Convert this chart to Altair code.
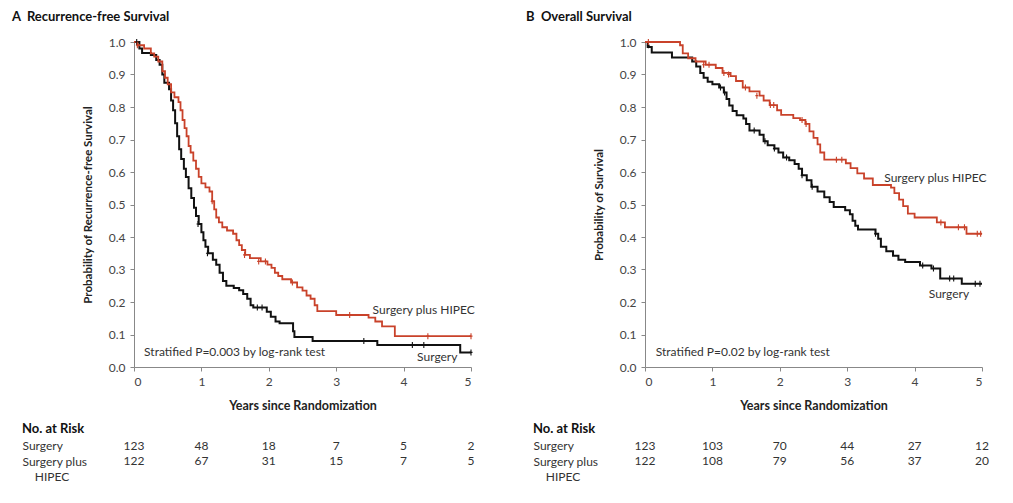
import altair as alt
import pandas as pd

FONT = "Lato"
ARMS = ["Surgery", "Surgery plus HIPEC"]
COLORS = ["#111111", "#c9422a"]
YEARS = [0, 1, 2, 3, 4, 5]
Y_TICKS = [0.0, 0.1, 0.2, 0.3, 0.4, 0.5, 0.6, 0.7, 0.8, 0.9, 1.0]
ROWS = ["Surgery", "Surgery plus", "\u200b\u00a0\u00a0\u00a0\u00a0HIPEC"]

# ---------------- Panel A: Recurrence-free survival ----------------
a_surg_t = [0, 0.08, 0.12, 0.25, 0.33, 0.38, 0.42, 0.45, 0.52, 0.55, 0.58, 0.61, 0.64, 0.67, 0.70,
            0.74, 0.77, 0.81, 0.85, 0.89, 0.92, 0.96, 1.00, 1.03, 1.06, 1.10, 1.17, 1.22, 1.27, 1.32,
            1.37, 1.48, 1.56, 1.62, 1.68, 1.73, 1.77, 1.97, 2.03, 2.10, 2.16, 2.36, 2.38, 2.65, 3.61,
            4.84, 5.0]
a_surg_v = [1.0, 0.98, 0.966, 0.96, 0.945, 0.93, 0.90, 0.875, 0.855, 0.82, 0.79, 0.75, 0.71, 0.67, 0.64,
            0.61, 0.585, 0.55, 0.52, 0.49, 0.465, 0.44, 0.415, 0.39, 0.37, 0.35, 0.33, 0.315, 0.29, 0.265,
            0.25, 0.243, 0.236, 0.225, 0.21, 0.19, 0.183, 0.17, 0.155, 0.14, 0.135, 0.11, 0.092, 0.08, 0.068,
            0.045, 0.045]
a_hip_t = [0, 0.05, 0.15, 0.25, 0.30, 0.36, 0.42, 0.46, 0.50, 0.55, 0.60, 0.66, 0.69, 0.72, 0.75, 0.78,
           0.81, 0.84, 0.88, 0.92, 0.96, 1.00, 1.06, 1.12, 1.16, 1.19, 1.22, 1.26, 1.31, 1.38, 1.47, 1.52,
           1.56, 1.60, 1.65, 1.72, 1.88, 1.98, 2.04, 2.09, 2.14, 2.20, 2.33, 2.42, 2.50, 2.56, 2.62, 2.68,
           2.72, 3.00, 3.48, 3.58, 3.68, 3.87, 5.0]
a_hip_v = [1.0, 0.99, 0.98, 0.965, 0.955, 0.94, 0.91, 0.89, 0.87, 0.845, 0.83, 0.815, 0.79, 0.76, 0.735,
           0.71, 0.68, 0.66, 0.635, 0.61, 0.585, 0.565, 0.553, 0.54, 0.51, 0.485, 0.46, 0.445, 0.43, 0.42,
           0.41, 0.39, 0.375, 0.36, 0.345, 0.335, 0.325, 0.315, 0.305, 0.29, 0.28, 0.27, 0.26, 0.245, 0.235,
           0.22, 0.21, 0.19, 0.172, 0.16, 0.152, 0.14, 0.125, 0.095, 0.095]
a_surg_cens_t = [0.04, 0.95, 1.09, 1.83, 1.90, 3.41, 4.13, 4.30, 5.0]
a_surg_cens_v = [1.0, 0.44, 0.35, 0.183, 0.183, 0.08, 0.068, 0.068, 0.045]
a_hip_cens_t = [0.05, 1.16, 1.64, 1.85, 1.95, 2.35, 3.20, 4.36, 5.0]
a_hip_cens_v = [0.99, 0.51, 0.345, 0.325, 0.325, 0.26, 0.16, 0.095, 0.095]
a_risk_surg = [123, 48, 18, 7, 5, 2]
a_risk_hip = [122, 67, 31, 15, 7, 5]
a_notes = ["Surgery plus HIPEC", "Surgery", "Stratified P=0.003 by log-rank test"]
a_notes_t = [3.54, 4.2, 0.15]
a_notes_v = [0.176, 0.03, 0.045]

# ---------------- Panel B: Overall survival ----------------
b_surg_t = [0, 0.04, 0.10, 0.40, 0.70, 0.76, 0.82, 0.87, 0.93, 1.00, 1.10, 1.17, 1.21, 1.25, 1.30, 1.36,
            1.46, 1.50, 1.55, 1.70, 1.76, 1.82, 1.92, 1.98, 2.05, 2.14, 2.22, 2.28, 2.33, 2.40, 2.47, 2.56,
            2.66, 2.74, 2.80, 2.97, 3.04, 3.08, 3.12, 3.16, 3.42, 3.46, 3.50, 3.58, 3.68, 3.76, 3.86, 4.08,
            4.25, 4.38, 4.70, 5.0]
b_surg_v = [1.0, 0.985, 0.968, 0.952, 0.94, 0.925, 0.905, 0.89, 0.878, 0.87, 0.86, 0.845, 0.825, 0.805,
            0.788, 0.775, 0.765, 0.748, 0.728, 0.715, 0.695, 0.682, 0.672, 0.66, 0.645, 0.636, 0.625, 0.61,
            0.59, 0.575, 0.555, 0.54, 0.522, 0.508, 0.492, 0.482, 0.47, 0.45, 0.435, 0.423, 0.41, 0.395,
            0.37, 0.356, 0.342, 0.33, 0.323, 0.312, 0.303, 0.272, 0.256, 0.256]
b_hip_t = [0, 0.52, 0.56, 0.64, 0.75, 0.90, 1.05, 1.15, 1.27, 1.35, 1.45, 1.55, 1.70, 1.76, 1.85, 1.96,
           2.02, 2.20, 2.30, 2.38, 2.44, 2.50, 2.56, 2.60, 2.66, 2.98, 3.05, 3.15, 3.25, 3.38, 3.65, 3.70,
           3.77, 3.83, 3.90, 4.00, 4.33, 4.45, 4.77, 5.0]
b_hip_v = [1.0, 0.99, 0.965, 0.95, 0.94, 0.93, 0.92, 0.905, 0.895, 0.88, 0.86, 0.848, 0.835, 0.82, 0.806,
           0.79, 0.776, 0.766, 0.76, 0.748, 0.725, 0.705, 0.685, 0.66, 0.638, 0.627, 0.612, 0.596, 0.58,
           0.56, 0.552, 0.535, 0.515, 0.495, 0.472, 0.46, 0.445, 0.43, 0.41, 0.41]
b_surg_cens_t = [0.05, 1.12, 1.18, 1.62, 1.78, 1.92, 2.10, 2.33, 2.48, 3.42, 4.12, 4.28, 4.52, 4.58, 4.90, 4.97]
b_surg_cens_v = [0.99, 0.86, 0.845, 0.728, 0.695, 0.672, 0.645, 0.59, 0.555, 0.41, 0.312, 0.303, 0.272,
                 0.272, 0.256, 0.256]
b_hip_cens_t = [0.05, 0.87, 0.95, 1.17, 1.24, 1.49, 1.66, 1.86, 1.91, 2.33, 2.39, 2.84, 2.92, 4.39, 4.65,
                4.74, 4.93, 4.98]
b_hip_cens_v = [1.0, 0.93, 0.93, 0.905, 0.9, 0.86, 0.835, 0.806, 0.806, 0.76, 0.748, 0.638, 0.638, 0.445,
                0.43, 0.43, 0.41, 0.41]
b_risk_surg = [123, 103, 70, 44, 27, 12]
b_risk_hip = [122, 108, 79, 56, 37, 20]
b_notes = ["Surgery plus HIPEC", "Surgery", "Stratified P=0.02 by log-rank test"]
b_notes_t = [3.55, 4.21, 0.16]
b_notes_v = [0.583, 0.225, 0.045]

PLOT_W = 337
PLOT_H = 325


def panel(title, title_dx, ytitle, st, sv, ht, hv, sct, scv, hct, hcv, rs, rh, notes, notes_t, notes_v):
    xs = alt.Scale(domain=[0, 5], nice=False, zero=False)
    ys = alt.Scale(domain=[0, 1], nice=False)
    x = alt.X("t:Q", scale=xs, axis=alt.Axis(values=YEARS, title="Years since Randomization",
                                              format="d", titlePadding=12, titleFontSize=12.5))
    y = alt.Y("v:Q", scale=ys, axis=alt.Axis(values=Y_TICKS, format=".1f", title=ytitle,
                                              titlePadding=15, titleFontSize=11.5))
    surg = pd.DataFrame({"t": st, "v": sv})
    hip = pd.DataFrame({"t": ht, "v": hv})
    sc = pd.DataFrame({"t": sct, "v": scv})
    hc = pd.DataFrame({"t": hct, "v": hcv})
    nt = pd.DataFrame({"t": notes_t, "v": notes_v, "txt": notes})

    l_s = alt.Chart(surg).mark_line(interpolate="step-after", color=COLORS[0], strokeWidth=2).encode(x=x, y=y)
    l_h = alt.Chart(hip).mark_line(interpolate="step-after", color=COLORS[1], strokeWidth=1.8).encode(x=x, y=y)
    shape = "M0,-1L0,1M-0.5,0L0.5,0"
    c_s = alt.Chart(sc).mark_point(shape=shape, filled=False, size=36, strokeWidth=1.1,
                                   color=COLORS[0], opacity=1).encode(x=x, y=y)
    c_h = alt.Chart(hc).mark_point(shape=shape, filled=False, size=36, strokeWidth=1.1,
                                   color=COLORS[1], opacity=1).encode(x=x, y=y)
    txt = alt.Chart(nt).mark_text(align="left", baseline="middle", fontSize=12, color="#333").encode(
        x=x, y=y, text="txt:N")
    plot = alt.layer(l_s, l_h, c_s, c_h, txt).properties(width=PLOT_W, height=PLOT_H)

    risk = pd.DataFrame({
        "t": YEARS + YEARS,
        "row": [ROWS[0]] * 6 + [ROWS[1]] * 6,
        "n": rs + rh,
    })
    table = alt.Chart(risk).mark_text(fontSize=12, color="#333", align="center", baseline="middle").encode(
        x=alt.X("t:Q", scale=alt.Scale(domain=[0, 5], nice=False, zero=False), axis=None),
        y=alt.Y("row:N", scale=alt.Scale(domain=ROWS), sort=ROWS,
                axis=alt.Axis(title=None, domain=False, ticks=False, tickSize=0, labelAlign="left",
                              labelPadding=112, labelFontSize=12, labelColor="#333", grid=False)),
        text="n:Q",
    ).properties(width=PLOT_W, height=alt.Step(15.5),
                 title=alt.TitleParams("No. at Risk", anchor="start", frame="bounds", fontSize=13,
                                       fontWeight="bold", color="#111", offset=2))

    return alt.vconcat(plot, table, spacing=11,
                       title=alt.TitleParams(title, anchor="start", fontSize=13, fontWeight="bold",
                                             color="#111", offset=12, dx=title_dx))


pa = panel("A\u00a0\u00a0Recurrence-free Survival", -10, "Probability of Recurrence-free Survival",
           a_surg_t, a_surg_v, a_hip_t, a_hip_v, a_surg_cens_t, a_surg_cens_v, a_hip_cens_t, a_hip_cens_v,
           a_risk_surg, a_risk_hip, a_notes, a_notes_t, a_notes_v)
pb = panel("B\u00a0\u00a0Overall Survival", -7, "Probability of Survival",
           b_surg_t, b_surg_v, b_hip_t, b_hip_v, b_surg_cens_t, b_surg_cens_v, b_hip_cens_t, b_hip_cens_v,
           b_risk_surg, b_risk_hip, b_notes, b_notes_t, b_notes_v)

chart = alt.hconcat(pa, pb, spacing=50).configure(
    font=FONT, padding={"left": 4, "top": 3, "right": 4, "bottom": 4}, background="white"
).configure_view(stroke=None).configure_axis(
    domainColor="#888", tickColor="#888", tickSize=4, labelColor="#444", labelFontSize=12,
    labelPadding=5, titleFontWeight="bold", titleColor="#222", grid=False,
    labelFont=FONT, titleFont=FONT,
).configure_title(font=FONT)

chart.save("out.html", embed_options={"renderer": "svg", "actions": False})
